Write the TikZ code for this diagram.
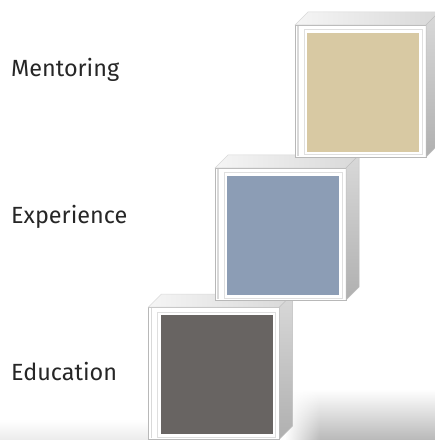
\documentclass[tikz,border=0pt]{standalone}
\usepackage{fontspec}
\setmainfont{Fira Sans}
\usetikzlibrary{fadings}
\definecolor{tanpanel}{HTML}{D8C9A3}
\definecolor{bluepanel}{HTML}{8C9DB5}
\definecolor{greypanel}{HTML}{686462}
\definecolor{edgegrey}{HTML}{B8B8B8}
\tikzset{
  front/.style={rectangle, inner sep=0pt, outer sep=0pt, minimum width=131bp, minimum height=132bp, fill=white, draw=edgegrey, line width=0.8bp},
  topface/.style={left color=gray!8, right color=gray!30, draw=gray!30, line width=0.5bp},
  sideface/.style={top color=gray!30, bottom color=gray!62, draw=gray!50, line width=0.5bp},
  rim/.style={draw=gray!25, line width=1bp},
  label/.style={anchor=base west, font=\fontsize{23.5}{26}\selectfont, text=black!85, inner sep=0pt}
}
\newcommand{\cubebox}[3]{%
  % #1 node name, #2 centre, #3 panel colour
  \node[front] (#1) at (#2) {};
  \path[topface] (#1.north west) -- ++(13,-13) -- ([shift={(13,-13)}]#1.north east) -- (#1.north east) -- cycle;
  \path[sideface] (#1.north east) -- ++(13,-13) -- ([shift={(13,-13)}]#1.south east) -- (#1.south east) -- cycle;
  \draw[gray!30, line width=1.2bp] ([shift={(3,1)}]#1.north west) -- ([shift={(3,-1)}]#1.south west);
  \draw[rim] ([shift={(9,5)}]#1.north west) rectangle ([shift={(-4,-2)}]#1.south east);
  \fill[#3] ([shift={(12,8)}]#1.north west) rectangle ([shift={(-7,-5)}]#1.south east);
}
\begin{document}
\begin{tikzpicture}[x=1bp,y=-1bp]
\useasboundingbox (0,0) rectangle (435,440);
\clip (0,0) rectangle (435,440);
\fill[white] (0,0) rectangle (435,440);
% floor shading
\fill[gray!55, path fading=north] (285,390) rectangle (435,440);
\fill[white, path fading=east] (285,390) rectangle (320,440);
\fill[gray!15, path fading=north] (0,420) rectangle (150,440);
% boxes
\cubebox{edubox}{214,373}{greypanel}
\cubebox{expbox}{280.5,234}{bluepanel}
\cubebox{menbox}{360.5,91}{tanpanel}
% labels
\node[label] (mentoring) at (11,77) {Mentoring};
\node[label] (experience) at (11,223) {Experience};
\node[label] (education) at (11,380) {Education};
\end{tikzpicture}
\end{document}
